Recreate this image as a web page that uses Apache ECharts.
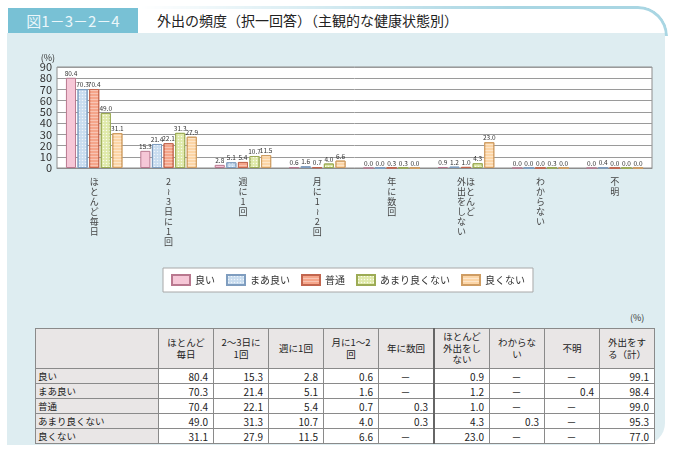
<!DOCTYPE html>
<html>
<head>
<meta charset="utf-8">
<script src="https://cdn.jsdelivr.net/npm/echarts@6/dist/echarts.min.js"></script>
<style>
  body { margin: 0; width: 673px; height: 450px; background: #fff; font-family: "Noto Sans CJK JP", sans-serif; overflow: hidden; position: relative; }
  .panel { position: absolute; left: 7px; top: 33px; width: 658px; height: 412px; background: #deedf1; border-bottom-right-radius: 22px; }
  .headline { position: absolute; left: 140px; top: 6px; width: 528px; height: 30px; border-top-right-radius: 30px; border-top: 3px solid #a9d6e3; border-right: 3px solid #a9d6e3; box-sizing: border-box; -webkit-mask-image: linear-gradient(to right, transparent, #000 70%); }
  .tag { position: absolute; left: 8px; top: 8px; width: 130px; height: 25px; background: #78c1d5; color: #eaf6fa; font-size: 15px; line-height: 25px; text-align: center; }
  .title { position: absolute; left: 157px; top: 8px; height: 25px; line-height: 25px; font-size: 14px; color: #222; }
  #chart { position: absolute; left: 0; top: 0; width: 673px; height: 300px; }
  .unit { position: absolute; left: 630px; top: 311px; font-size: 9px; color: #333; }
  table { position: absolute; left: 35px; top: 328px; border-collapse: collapse; font-size: 10px; color: #222; }
  td, th { border: 1px solid #8a8a8a; padding: 0 4px; }
  th { background: #e9e6e6; font-weight: normal; font-size: 9.5px; line-height: 11.5px; height: 39px; text-align: center; width: 46px; }
  th.first { width: 114px; }
  td { background: #fff; height: 14px; line-height: 13px; text-align: right; padding-right: 5px; }
  td.name { background: #e9e6e6; text-align: left; padding-left: 2px; font-size: 9.5px; }
  td.dash { text-align: center; }
  .thick { border-left: 2px solid #666; }
</style>
</head>
<body>
<div class="panel"></div>
<div class="headline"></div>
<div class="tag">図1－3－2－4</div>
<div class="title">外出の頻度（択一回答）（主観的な健康状態別）</div>
<div id="chart"></div>
<div class="unit">(%)</div>
<table id="tbl"></table>
<script>
const categories = ['ほとんど毎日', '2～3日に1回', '週に1回', '月に1～2回', '年に数回', 'ほとんど外出をしない', 'わからない', '不明'];
const tableHeads = ['ほとんど<br>毎日', '2～3日に<br>1回', '週に1回', '月に1～2<br>回', '年に数回', 'ほとんど<br>外出をし<br>ない', 'わからな<br>い', '不明', '外出をす<br>る（計）'];
const groups = ['良い', 'まあ良い', '普通', 'あまり良くない', '良くない'];

const good = [80.4, 15.3, 2.8, 0.6, 0.0, 0.9, 0.0, 0.0];
const fairlyGood = [70.3, 21.4, 5.1, 1.6, 0.0, 1.2, 0.0, 0.4];
const normal = [70.4, 22.1, 5.4, 0.7, 0.3, 1.0, 0.0, 0.0];
const notGood = [49.0, 31.3, 10.7, 4.0, 0.3, 4.3, 0.3, 0.0];
const bad = [31.1, 27.9, 11.5, 6.6, 0.0, 23.0, 0.0, 0.0];
const goOutTotal = [99.1, 98.4, 99.0, 95.3, 77.0];

const seriesData = [good, fairlyGood, normal, notGood, bad];
const fills = ['#f6c7d7', '#c8dcef', '#f5a58a', '#dfe9a9', '#fcd5a6'];
const borders = ['#b9788f', '#7f9dbf', '#c2664f', '#9cab55', '#cf9d63'];
const decals = [
  null,
  { symbol: 'circle', symbolSize: 0.5, dashArrayX: [3, 0], dashArrayY: [3, 0], color: 'rgba(255,255,255,0.7)' },
  { symbol: 'rect', dashArrayX: [1, 0], dashArrayY: [1, 2], color: 'rgba(255,255,255,0.35)' },
  { symbol: 'circle', symbolSize: 0.5, dashArrayX: [3, 0], dashArrayY: [3, 0], color: 'rgba(255,255,255,0.8)' },
  { symbol: 'rect', dashArrayX: [1, 0], dashArrayY: [1, 2], color: 'rgba(255,255,255,0.4)' }
];

// 縦書きラベル（2列のものは左列＋右列を一行ずつ並べる）
function verticalLabel(name) {
  const v = s => s.split('').map(c => (c === '～' ? '≀' : c));
  if (name === 'ほとんど外出をしない') {
    const right = v('ほとんど');
    const left = v('外出をしない');
    const rows = [];
    for (let i = 0; i < left.length; i++) {
      rows.push(left[i] + (right[i] || '　'));
    }
    return rows.join('\n');
  }
  return v(name).join('\n');
}

function init() {
  const chart = echarts.init(document.getElementById('chart'), null, { renderer: 'canvas' });
  const option = {
    textStyle: { fontFamily: 'Noto Sans CJK JP' },
    animation: false,
    grid: {
      left: 57, right: 21, top: 67, height: 101,
      show: true, backgroundColor: '#fff', borderColor: '#8d8d8d', borderWidth: 1
    },
    legend: {
      top: 268, left: 163,
      data: groups,
      icon: 'rect',
      itemWidth: 18, itemHeight: 10, itemGap: 11,
      backgroundColor: '#fff', borderColor: '#a8a8a8', borderWidth: 1,
      padding: [6, 8],
      textStyle: { fontSize: 10, color: '#333' }
    },
    xAxis: {
      type: 'category',
      data: categories,
      axisLine: { lineStyle: { color: '#8d8d8d' } },
      axisTick: { show: false },
      axisLabel: {
        interval: 0, margin: 9,
        fontSize: 9, lineHeight: 10, color: '#444',
        formatter: verticalLabel
      }
    },
    yAxis: {
      type: 'value', min: 0, max: 90, interval: 10,
      name: '(%)', nameGap: 4, nameTextStyle: { fontSize: 9, color: '#333', align: 'right', padding: [0, 2, 0, 0] },
      axisLine: { show: false },
      axisTick: { show: false },
      axisLabel: { fontSize: 11, color: '#333', margin: 5 },
      splitLine: { lineStyle: { color: '#9a9a9a', width: 1 } }
    },
    series: groups.map((g, i) => ({
      name: g,
      type: 'bar',
      data: seriesData[i],
      barGap: '15%',
      barCategoryGap: '24%',
      itemStyle: { color: fills[i], borderColor: borders[i], borderWidth: 1, decal: decals[i] || undefined },
      label: {
        show: true, position: 'top', distance: 1,
        fontSize: 6.5, color: '#333',
        formatter: p => p.value.toFixed(1)
      }
    })),
    aria: { enabled: false, decal: { show: true } }
  };
  chart.setOption(option);
}
init();

// 表
function renderTable() {
  const tbl = document.getElementById('tbl');
  let str = '<tr><th class="first"></th>';
  tableHeads.forEach((h, i) => {
    str += `<th${i === 5 ? ' class="thick"' : ''}>${h}</th>`;
  });
  str += '</tr>';
  groups.forEach((g, r) => {
    str += `<tr><td class="name">${g}</td>`;
    const vals = seriesData[r].concat([goOutTotal[r]]);
    vals.forEach((v, c) => {
      const cls = [];
      if (c === 5) cls.push('thick');
      let text = v.toFixed(1);
      if (v === 0) { text = '－'; cls.push('dash'); }
      str += `<td class="${cls.join(' ')}">${text}</td>`;
    });
    str += '</tr>';
  });
  tbl.innerHTML = str;
}
renderTable();
</script>
</body>
</html>
